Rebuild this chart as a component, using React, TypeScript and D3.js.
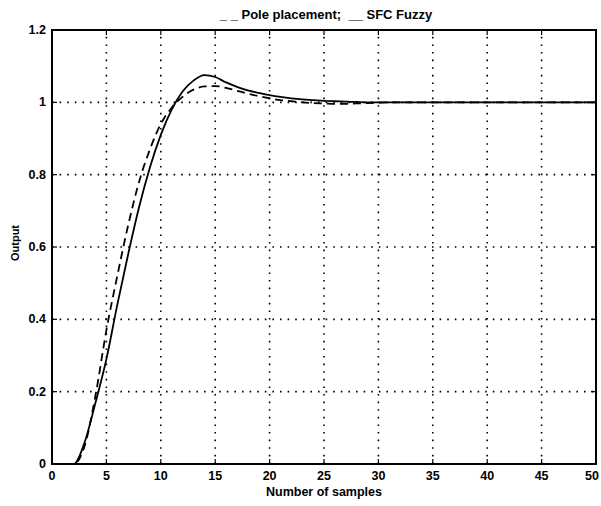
import React from "react";
import * as d3 from "d3";

const samples: number[] = Array.from({ length: 51 }, (_, i) => i);

const sfcFuzzy: number[] = [
  0, 0, 0, 0.06, 0.17, 0.29, 0.44, 0.58, 0.71, 0.82,
  0.91, 0.98, 1.03, 1.06, 1.075, 1.07, 1.055, 1.043, 1.033, 1.026,
  1.02, 1.015, 1.011, 1.008, 1.006, 1.004, 1.003, 1.002, 1.001, 1.0,
  1.0, 1.0, 1.0, 1.0, 1.0, 1.0, 1.0, 1.0, 1.0, 1.0,
  1.0, 1.0, 1.0, 1.0, 1.0, 1.0, 1.0, 1.0, 1.0, 1.0, 1.0,
];

const polePlacement: number[] = [
  0, 0, 0, 0.05, 0.19, 0.37, 0.52, 0.66, 0.78, 0.87,
  0.94, 0.985, 1.015, 1.035, 1.044, 1.045, 1.04, 1.032, 1.024, 1.017,
  1.011, 1.006, 1.003, 1.0, 0.998, 0.997, 0.996, 0.996, 0.997, 0.998,
  0.999, 1.0, 1.0, 1.0, 1.0, 1.0, 1.0, 1.0, 1.0, 1.0,
  1.0, 1.0, 1.0, 1.0, 1.0, 1.0, 1.0, 1.0, 1.0, 1.0, 1.0,
];

const xTicks: number[] = [0, 5, 10, 15, 20, 25, 30, 35, 40, 45, 50];
const yTicks: number[] = [0, 0.2, 0.4, 0.6, 0.8, 1, 1.2];

const titleText = "_ _ Pole placement;  __ SFC Fuzzy";
const xLabel = "Number of samples";
const yLabel = "Output";

const W = 601;
const H = 506;
const left = 52;
const right = 596;
const top = 30;
const bottom = 464;

export default function App() {
  const x = d3.scaleLinear().domain([0, 50]).range([left, right]);
  const y = d3.scaleLinear().domain([0, 1.2]).range([bottom, top]);

  const line = d3
    .line<number>()
    .x((_, i) => x(samples[i]))
    .y((d) => y(d))
    .curve(d3.curveMonotoneX);

  const font = "'Liberation Sans', Arial, Helvetica, sans-serif";

  return (
    <svg
      width={W}
      height={H}
      style={{ position: "absolute", left: 0, top: 0, background: "#fff" }}
      fontFamily={font}
    >
      <rect x={0} y={0} width={W} height={H} fill="#fff" />
      {/* grid */}
      {xTicks.slice(1, -1).map((t) => (
        <line
          key={"gx" + t}
          x1={x(t)}
          x2={x(t)}
          y1={bottom}
          y2={top}
          stroke="#000"
          strokeWidth={1.6}
          strokeDasharray="1.6,6"
        />
      ))}
      {yTicks.slice(1, -1).map((t) => (
        <line
          key={"gy" + t}
          x1={left}
          x2={right}
          y1={y(t)}
          y2={y(t)}
          stroke="#000"
          strokeWidth={1.6}
          strokeDasharray="1.6,6"
        />
      ))}
      {/* ticks */}
      {xTicks.map((t) => (
        <g key={"tx" + t}>
          <line x1={x(t)} x2={x(t)} y1={bottom} y2={bottom - 5} stroke="#000" strokeWidth={1.2} />
          <line x1={x(t)} x2={x(t)} y1={top} y2={top + 5} stroke="#000" strokeWidth={1.2} />
        </g>
      ))}
      {yTicks.map((t) => (
        <g key={"ty" + t}>
          <line x1={left} x2={left + 5} y1={y(t)} y2={y(t)} stroke="#000" strokeWidth={1.2} />
          <line x1={right} x2={right - 5} y1={y(t)} y2={y(t)} stroke="#000" strokeWidth={1.2} />
        </g>
      ))}
      {/* curves */}
      <path
        d={line(polePlacement) || ""}
        fill="none"
        stroke="#000"
        strokeWidth={1.8}
        strokeDasharray="8,5"
      />
      <path d={line(sfcFuzzy) || ""} fill="none" stroke="#000" strokeWidth={1.8} />
      {/* frame */}
      <rect
        x={left}
        y={top}
        width={right - left}
        height={bottom - top}
        fill="none"
        stroke="#000"
        strokeWidth={2}
      />
      {/* tick labels */}
      {xTicks.map((t) => (
        <text
          key={"lx" + t}
          x={Math.min(x(t), W - 9)}
          y={bottom + 16}
          textAnchor="middle"
          fontSize={12.5}
          fontWeight="bold"
        >
          {t}
        </text>
      ))}
      {yTicks.map((t) => (
        <text
          key={"ly" + t}
          x={left - 6}
          y={y(t) + 4}
          textAnchor="end"
          fontSize={12.5}
          fontWeight="bold"
        >
          {t}
        </text>
      ))}
      <text
        x={(left + right) / 2}
        y={bottom + 32}
        textAnchor="middle"
        fontSize={12.5}
        fontWeight="bold"
      >
        {xLabel}
      </text>
      <text
        transform={`translate(19, ${(top + bottom) / 2 - 4}) rotate(-90)`}
        textAnchor="middle"
        fontSize={11}
        fontWeight="bold"
      >
        {yLabel}
      </text>
      <text
        x={326}
        y={19}
        textAnchor="middle"
        fontSize={13}
        fontWeight="bold"
        style={{ whiteSpace: "pre" }}
      >
        {titleText}
      </text>
    </svg>
  );
}
